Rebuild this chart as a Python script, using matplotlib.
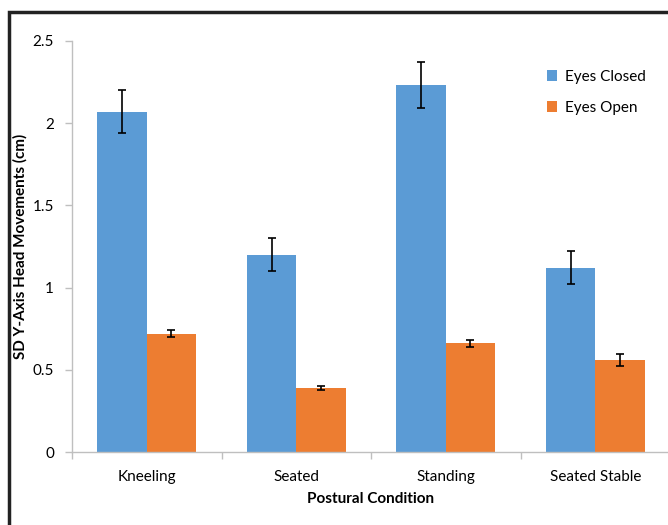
import numpy as np
import matplotlib
matplotlib.use('Agg')
import matplotlib.pyplot as plt
from matplotlib.patches import Rectangle

plt.rcParams['font.family'] = ['Lato', 'DejaVu Sans']

# 資料
conditions = ['Kneeling', 'Seated', 'Standing', 'Seated Stable']
eyes_closed = [2.07, 1.20, 2.23, 1.12]
eyes_closed_err = [0.13, 0.10, 0.14, 0.10]
eyes_open = [0.72, 0.39, 0.66, 0.56]
eyes_open_err = [0.02, 0.01, 0.02, 0.035]

W, H = 668, 525
fig = plt.figure(figsize=(W / 100, H / 100), dpi=100)
ax = fig.add_axes([72 / W, (H - 452) / H, 598 / W, 411 / H])

x = np.arange(len(conditions))
width = 0.33
blue = '#5b9bd5'
orange = '#ed7d31'

ax.bar(x - width / 2, eyes_closed, width, color=blue, label='Eyes Closed',
       yerr=eyes_closed_err, capsize=3,
       error_kw=dict(ecolor='black', elinewidth=1.2, capthick=1.2))
ax.bar(x + width / 2, eyes_open, width, color=orange, label='Eyes Open',
       yerr=eyes_open_err, capsize=3,
       error_kw=dict(ecolor='black', elinewidth=1.2, capthick=1.2))

ax.set_xlim(-0.5, len(conditions) - 0.5)
ax.set_ylim(0, 2.5)
ax.set_yticks([0, 0.5, 1, 1.5, 2, 2.5])
ax.set_yticklabels(['0', '0.5', '1', '1.5', '2', '2.5'])

ax.set_xticks(x)
ax.set_xticklabels(conditions)
ax.set_xticks(np.arange(-0.5, len(conditions), 1.0), minor=True)
ax.tick_params(axis='x', which='major', length=0, pad=13, labelsize=11)
ax.tick_params(axis='x', which='minor', length=5, color='#bfbfbf', width=1)
ax.tick_params(axis='y', length=5, color='#bfbfbf', width=1, pad=8, labelsize=11)

for s in ['top', 'right']:
    ax.spines[s].set_visible(False)
for s in ['left', 'bottom']:
    ax.spines[s].set_color('#bfbfbf')
    ax.spines[s].set_linewidth(1)

ax.set_xlabel('Postural Condition', fontsize=11, fontweight='bold')
ax.xaxis.set_label_coords(0.5, -(492 - 452) / 411)
ax.set_ylabel('SD Y-Axis Head Movements (cm)', fontsize=11, fontweight='bold')
ax.yaxis.set_label_coords(-(72 - 28) / 598, 0.5)

ax.legend(loc='upper left', bbox_to_anchor=(533 / W, 1 - 56 / H),
          bbox_transform=fig.transFigure, frameon=False, fontsize=11,
          handlelength=0.7, handleheight=0.7, handletextpad=0.5, labelspacing=1.1)

# 外框
fig.patches.append(Rectangle((9 / W, -0.1), 1.2, 1 - 12 / H + 0.1,
                             transform=fig.transFigure, fill=False,
                             edgecolor='#222222', linewidth=2.5))

plt.savefig('out.png', dpi=100)
plt.close()
